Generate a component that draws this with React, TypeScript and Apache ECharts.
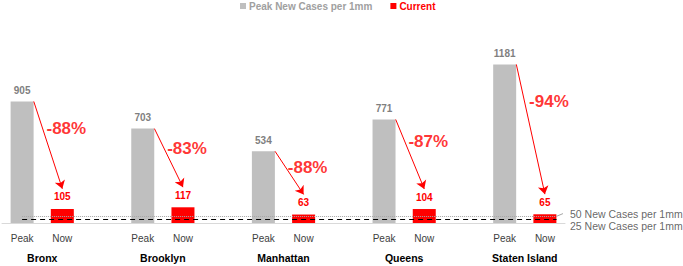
import React, { useEffect, useRef } from "react";
import * as echarts from "echarts";

const boroughs = ["Bronx", "Brooklyn", "Manhattan", "Queens", "Staten Island"];
const peakValues = [905, 703, 534, 771, 1181];
const currentValues = [105, 117, 63, 104, 65];
const slotLabels = ["Peak", "Now"];
const thresholds = [50, 25];
const thresholdLabels = ["50 New Cases per 1mm", "25 New Cases per 1mm"];

const FONT = '"Liberation Sans", Arial, Helvetica, sans-serif';
const RED = "#ff0000";
const GRAY = "#bfbfbf";

export default function App() {
  const ref = useRef<HTMLDivElement>(null);
  useEffect(() => {
    if (!ref.current) return;
    document.body.style.margin = "0";
    const chart = echarts.init(ref.current, undefined, { renderer: "svg" });
    const n = boroughs.length;
    const lastX = (n - 1) * 3 + 1;
    const peakData = peakValues.map((v, i) => [i * 3, v]);
    const curData = currentValues.map((v, i) => [i * 3 + 1, v]);
    const slotTicks: number[] = [];
    boroughs.forEach((_, i) => { slotTicks.push(i * 3, i * 3 + 1); });
    const boroughTicks = boroughs.map((_, i) => i * 3 + 0.5);
    const arrows = peakValues.map((p, i) => ({
      coords: [[i * 3 + 0.29, p], [i * 3 + 1, currentValues[i] + 150]],
    }));
    const pctData = peakValues.map((p, i) => {
      const c = currentValues[i];
      const pct = Math.round(((c - p) / p) * 100);
      return { value: [i * 3 + 1.1, p - (p - c) * 0.25], pct };
    });
    const edge = lastX + 0.29;
    const labelYs = [thresholds[0] + 20, thresholds[1] - 45];
    const leaderX = lastX + 0.45;
    const labelX = lastX + 0.6;
    const leaderStyle = { color: "#a6a6a6", type: "solid", width: 1 };
    const option: any = {
      animation: false,
      textStyle: { fontFamily: FONT },
      legend: {
        top: 1,
        left: 240,
        padding: 0,
        itemWidth: 6,
        itemHeight: 6,
        itemGap: 18,
        icon: "rect",
        textStyle: { fontFamily: FONT, fontSize: 10, fontWeight: "bold", padding: [0, 0, 0, -2] },
        data: [
          { name: "Peak New Cases per 1mm", textStyle: { color: "#a0a0a0" } },
          { name: "Current", textStyle: { color: RED } },
        ],
      },
      grid: { left: 2, right: 118, top: 35, bottom: 43 },
      xAxis: [
        {
          type: "value",
          min: -0.5,
          max: lastX + 0.5,
          axisLine: { show: true, lineStyle: { color: "#d9d9d9", width: 1 } },
          axisTick: { show: false },
          splitLine: { show: false },
          axisLabel: {
            customValues: slotTicks,
            formatter: (v: number) => slotLabels[Math.round(v) % 3],
            color: "#404040",
            fontSize: 10,
            fontFamily: FONT,
            margin: 10,
          },
        },
        {
          type: "value",
          min: -0.5,
          max: lastX + 0.5,
          position: "bottom",
          offset: 20,
          axisLine: { show: false },
          axisTick: { show: false },
          splitLine: { show: false },
          axisLabel: {
            customValues: boroughTicks,
            formatter: (v: number) => boroughs[Math.floor(v / 3)],
            color: "#000000",
            fontSize: 10.5,
            fontWeight: "bold",
            fontFamily: FONT,
            margin: 9,
          },
        },
      ],
      yAxis: { type: "value", min: 0, max: 1400, show: false, splitLine: { show: false } },
      series: [
        {
          name: "Peak New Cases per 1mm",
          type: "bar",
          data: peakData,
          barWidth: 23,
          barGap: "-100%",
          itemStyle: { color: GRAY },
          label: {
            show: true,
            position: "top",
            distance: 6,
            color: "#7f7f7f",
            fontSize: 10,
            fontWeight: "bold",
            fontFamily: FONT,
            formatter: (p: any) => String(p.value[1]),
          },
          markLine: {
            silent: true,
            symbol: "none",
            label: { show: false },
            data: [
              [
                { coord: [0, thresholds[0]], lineStyle: { color: "#a6a6a6", type: [1, 1], width: 1 } },
                { coord: [edge, thresholds[0]] },
              ],
              [
                { coord: [0, thresholds[1]], lineStyle: { color: "#000000", type: [5, 4], width: 1 } },
                { coord: [edge, thresholds[1]] },
              ],
              [
                { coord: [edge, thresholds[0]], lineStyle: leaderStyle },
                { coord: [leaderX, labelYs[0]] },
              ],
              [
                { coord: [leaderX, labelYs[0]], lineStyle: leaderStyle },
                { coord: [labelX, labelYs[0]] },
              ],
              [
                { coord: [edge, thresholds[1]], lineStyle: leaderStyle },
                { coord: [leaderX, labelYs[1]] },
              ],
              [
                { coord: [leaderX, labelYs[1]], lineStyle: leaderStyle },
                { coord: [labelX, labelYs[1]] },
              ],
            ],
          },
        },
        {
          name: "Current",
          type: "bar",
          data: curData,
          barWidth: 23,
          barGap: "-100%",
          itemStyle: { color: RED },
          label: {
            show: true,
            position: "top",
            distance: 7,
            color: RED,
            fontSize: 10,
            fontWeight: "bold",
            fontFamily: FONT,
            formatter: (p: any) => String(p.value[1]),
          },
        },
        {
          type: "lines",
          coordinateSystem: "cartesian2d",
          silent: true,
          symbol: ["none", "arrow"],
          symbolSize: 8,
          lineStyle: { color: RED, width: 1, opacity: 1 },
          data: arrows,
          z: 5,
        },
        {
          type: "scatter",
          silent: true,
          symbolSize: 0,
          clip: false,
          data: pctData,
          label: {
            show: true,
            position: "inside",
            color: RED,
            fontSize: 17,
            fontWeight: "bold",
            fontFamily: FONT,
            formatter: (p: any) => `${p.data.pct}%`,
          },
          z: 6,
        },
        {
          type: "scatter",
          silent: true,
          symbolSize: 0,
          clip: false,
          data: thresholds.map((t, i) => ({
            value: [labelX, labelYs[i]],
            name: thresholdLabels[i],
          })),
          label: {
            show: true,
            position: "right",
            distance: 1,
            color: "#404040",
            fontSize: 10.5,
            lineHeight: 10,
            fontFamily: FONT,
            formatter: (p: any) => p.name,
          },
        },
      ],
    };
    chart.setOption(option);
    return () => chart.dispose();
  }, []);
  return <div ref={ref} style={{ width: 683, height: 266 }} />;
}
